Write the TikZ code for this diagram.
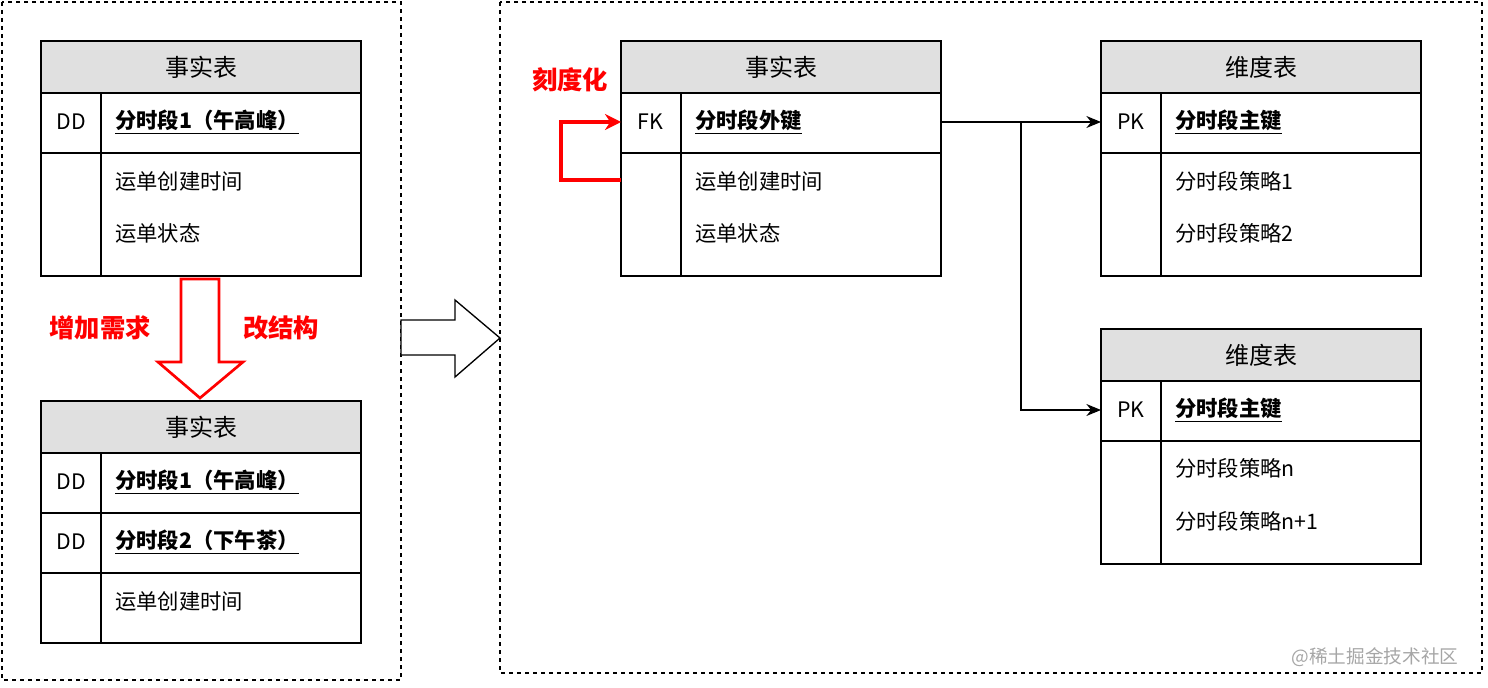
\documentclass[tikz,border=0pt]{standalone}
\usepackage{fontspec}
\setmainfont{Noto Sans CJK SC}
\usetikzlibrary{arrows.meta}
\definecolor{hdr}{HTML}{E0E0E0}
\definecolor{rd}{HTML}{FF0000}
\begin{document}
\begin{tikzpicture}[x=0.75pt,y=-0.75pt,
  box/.style={draw,line width=1pt},
  hd/.style={font=\fontsize{18}{21}\selectfont},
  tx/.style={font=\fontsize{16}{19}\selectfont,anchor=west,inner sep=0},
  key/.style={tx,font=\fontsize{16}{19}\selectfont\bfseries},
  lab/.style={font=\fontsize{16}{19}\selectfont,inner sep=0},
  red/.style={text=rd,font=\fontsize{19}{22}\selectfont\bfseries},
  dashbox/.style={draw,dashed,line width=0.8pt},
  conn/.style={draw,line width=0.9pt,-{Stealth[length=11pt,width=9pt]}}]
\useasboundingbox (0,0) rectangle (1488,688);
\path[dashbox] (2,2) rectangle (401,680);
\path[dashbox] (500,2) rectangle (1482,673);
% Table 1
\path[box,fill=hdr] (41,41) rectangle (361,93);
\path[box] (41,93) rectangle (361,276);
\draw[line width=1pt] (41,153) -- (361,153) (101,93) -- (101,276);
\node[hd] (t1h) at (201,67) {事实表};
\node[lab] (t1k) at (71,122) {DD};
\node[key] (t1a) at (115,122) {\underline{分时段1（午高峰）}};
\node[tx] (t1b) at (115,181) {运单创建时间};
\node[tx] (t1c) at (115,233) {运单状态};
% Table 2
\path[box,fill=hdr] (41,401) rectangle (361,453);
\path[box] (41,453) rectangle (361,643);
\draw[line width=1pt] (41,513) -- (361,513) (41,573) -- (361,573) (101,453) -- (101,643);
\node[hd] (t2h) at (201,427) {事实表};
\node[lab] (t2k1) at (71,482) {DD};
\node[key] (t2a) at (115,482) {\underline{分时段1（午高峰）}};
\node[lab] (t2k2) at (71,542) {DD};
\node[key] (t2b) at (115,542) {\underline{分时段2（下午茶）}};
\node[tx] (t2c) at (115,601) {运单创建时间};
% Down arrow
\draw[rd,line width=2pt,fill=white] (181,279) -- (219,279) -- (219,362) -- (243,362) -- (200,398) -- (158,362) -- (181,362) -- cycle;
\node[red] (l1) at (100,328) {增加需求};
\node[red] (l2) at (281,328) {改结构};
% Right arrow
\draw[line width=1pt,fill=white] (401,320) -- (455,320) -- (455,300) -- (500,338) -- (455,377) -- (455,355) -- (401,355) -- cycle;
% Table 3
\path[box,fill=hdr] (621,41) rectangle (941,93);
\path[box] (621,93) rectangle (941,276);
\draw[line width=1pt] (621,153) -- (941,153) (681,93) -- (681,276);
\node[hd] (t3h) at (781,67) {事实表};
\node[lab] (t3k) at (650,122) {FK};
\node[key] (t3a) at (695,122) {\underline{分时段外键}};
\node[tx] (t3b) at (695,181) {运单创建时间};
\node[tx] (t3c) at (695,233) {运单状态};
\coordinate (lpA) at (621,180);
\coordinate (lpB) at (621,122);
\draw[rd,line width=2.5pt,-{Stealth[length=12pt,width=12pt]}] (lpA) -- (561,180) -- (561,122) -- (lpB);
\node[red] (l3) at (570,80) {刻度化};
% Table 4
\path[box,fill=hdr] (1101,41) rectangle (1421,93);
\path[box] (1101,93) rectangle (1421,276);
\draw[line width=1pt] (1101,153) -- (1421,153) (1161,93) -- (1161,276);
\node[hd] (t4h) at (1261,67) {维度表};
\node[lab] (t4k) at (1131,122) {PK};
\node[key] (t4a) at (1175,122) {\underline{分时段主键}};
\node[tx] (t4b) at (1175,181) {分时段策略1};
\node[tx] (t4c) at (1175,233) {分时段策略2};
% Table 5
\path[box,fill=hdr] (1101,329) rectangle (1421,381);
\path[box] (1101,381) rectangle (1421,564);
\draw[line width=1pt] (1101,441) -- (1421,441) (1161,381) -- (1161,564);
\node[hd] (t5h) at (1261,355) {维度表};
\node[lab] (t5k) at (1131,410) {PK};
\node[key] (t5a) at (1175,410) {\underline{分时段主键}};
\node[tx] (t5b) at (1175,468) {分时段策略n};
\node[tx] (t5c) at (1175,521) {分时段策略n+1};
% connectors
\coordinate (s) at (941,122);
\coordinate (e1) at (1101,122);
\coordinate (e2) at (1101,410);
\coordinate (br) at (1021,122);
\draw[conn] (s) -- (e1);
\draw[conn] (br) -- (1021,410) -- (e2);
\node[text=gray!70,font=\fontsize{14}{16}\selectfont] (wm) at (1375,657) {@稀土掘金技术社区};
\end{tikzpicture}
\end{document}
